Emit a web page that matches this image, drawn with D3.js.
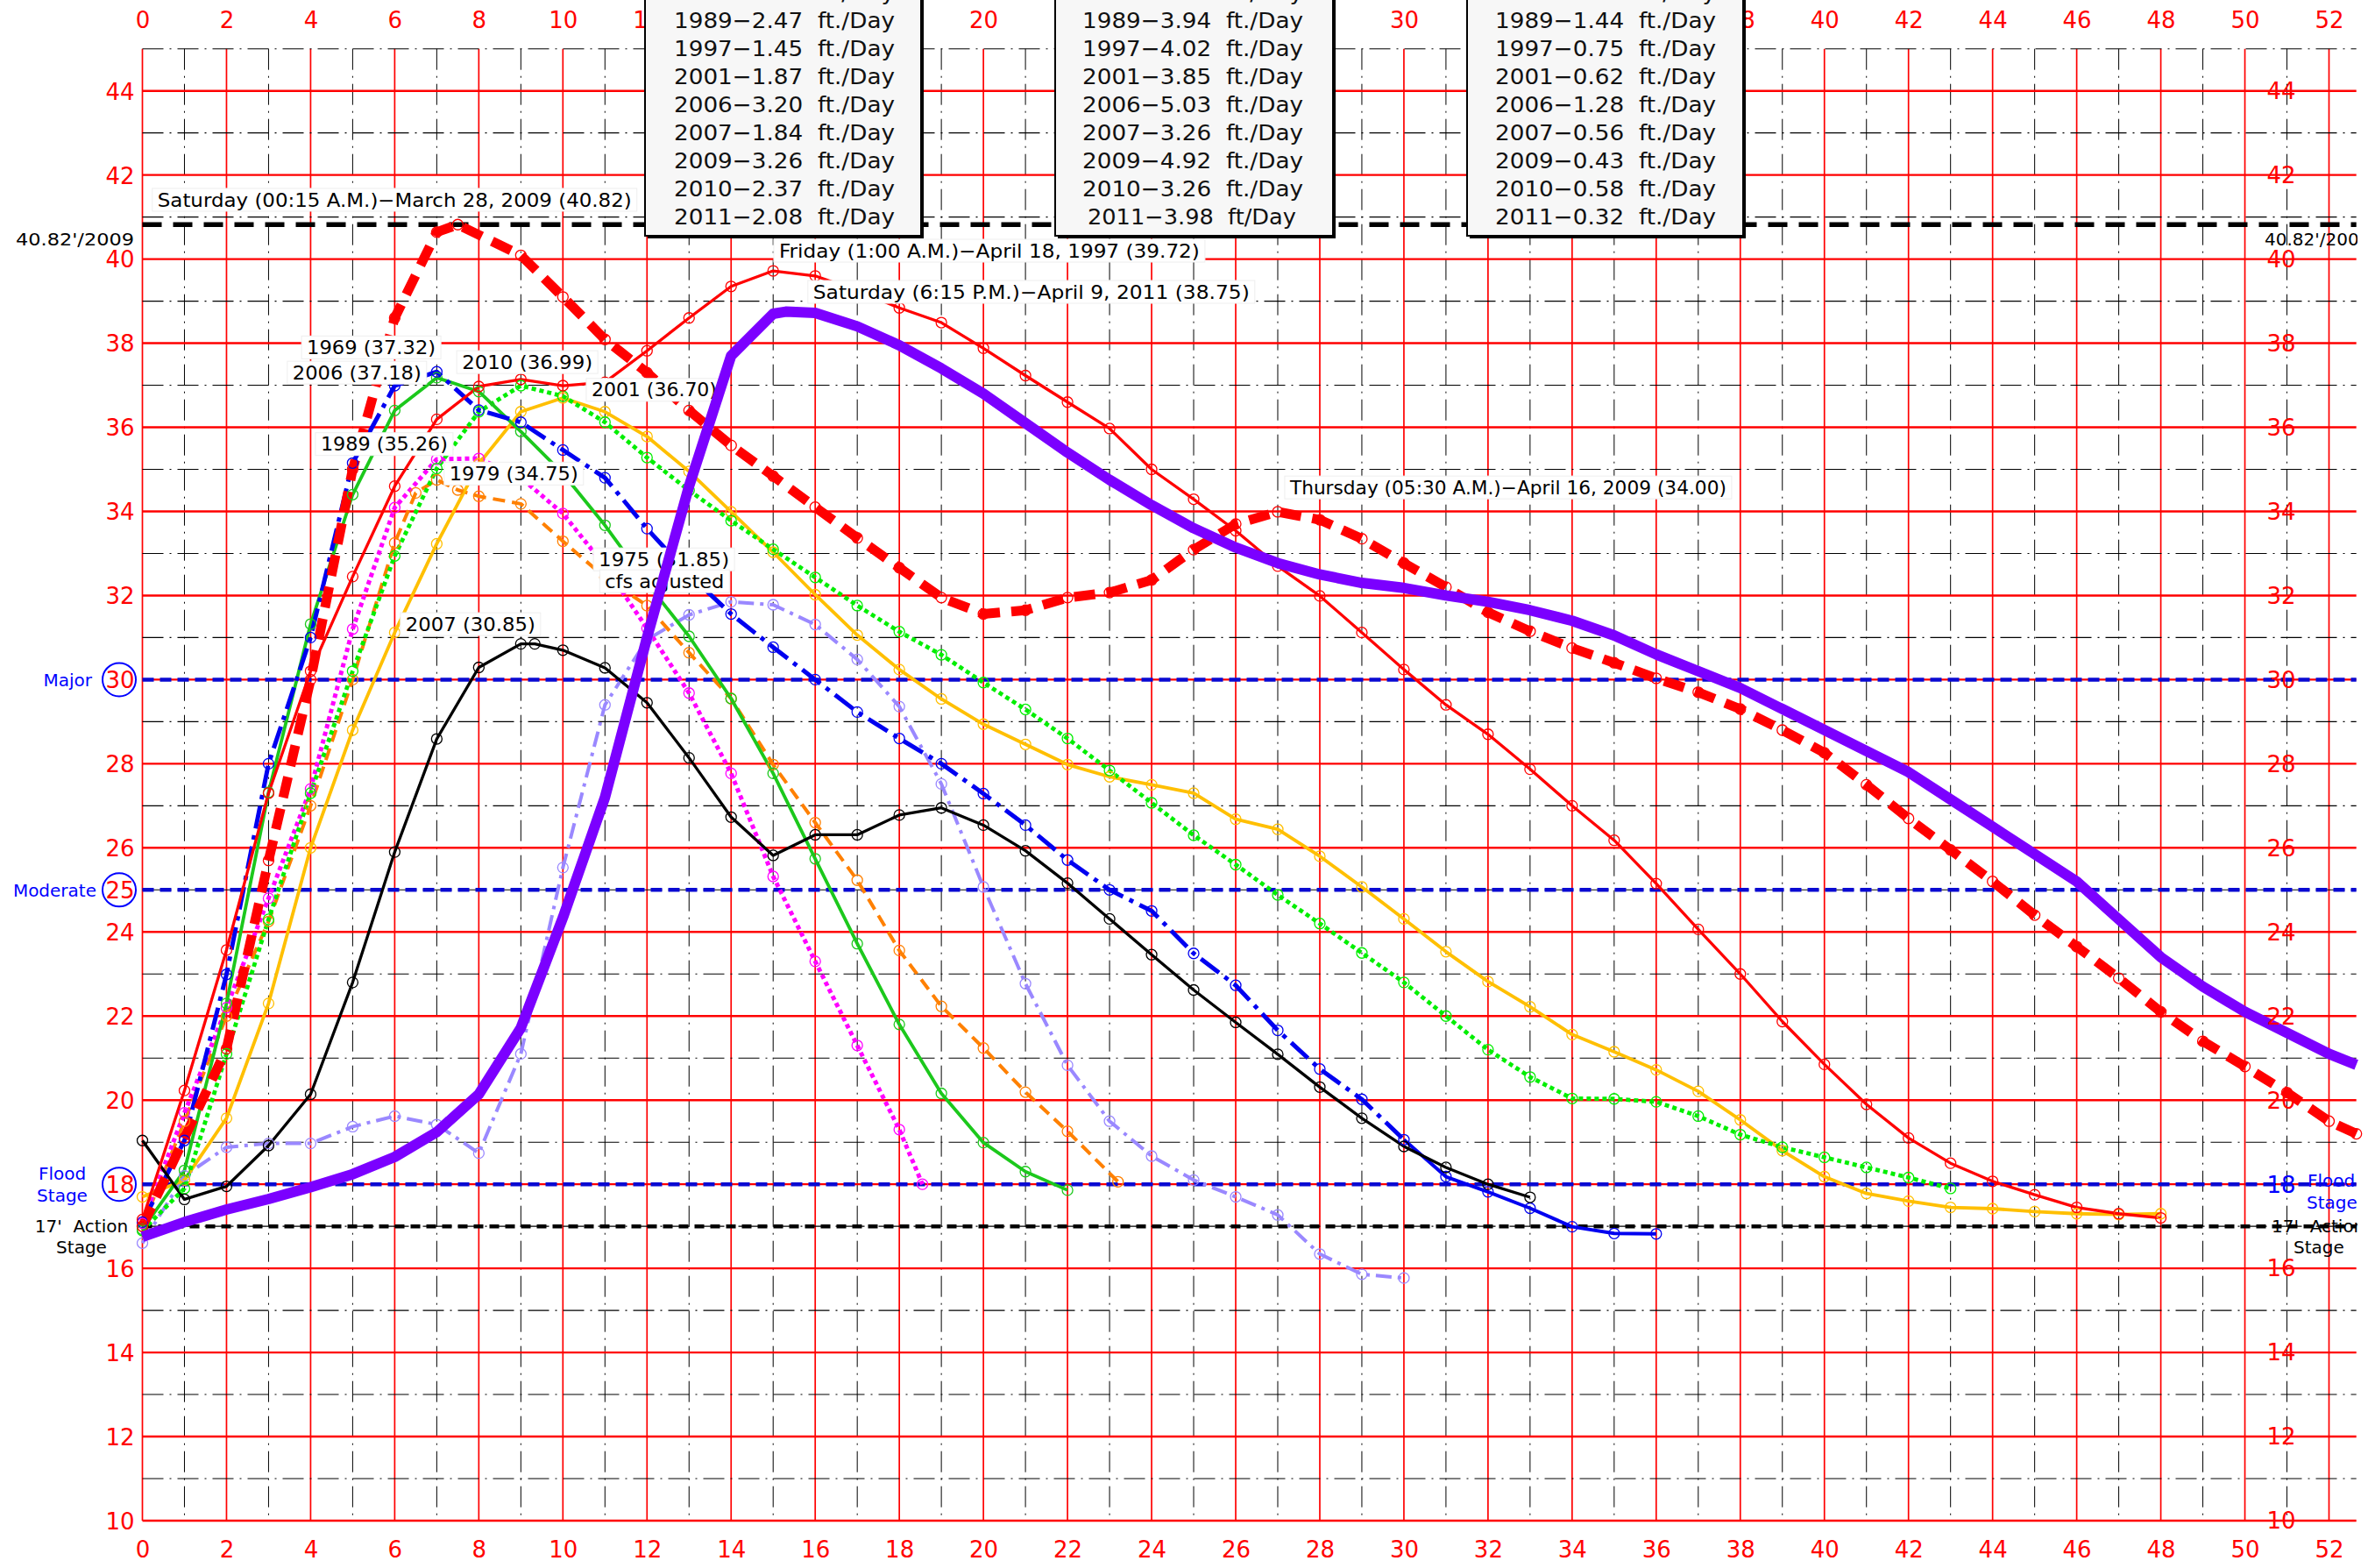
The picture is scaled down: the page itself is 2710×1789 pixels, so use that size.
<!DOCTYPE html>
<html><head><meta charset="utf-8">
<script src="https://cdn.jsdelivr.net/npm/d3@7"></script>
<style>
html,body{margin:0;padding:0;background:#fff;}
svg{display:block;}
text{font-family:"DejaVu Sans","Noto Sans",sans-serif;}
</style></head><body>
<svg id="c" width="2710" height="1789"></svg>
<script>
// ---------------- DATA ----------------
const xTicks = [0,2,4,6,8,10,12,14,16,18,20,22,24,26,28,30,32,34,36,38,40,42,44,46,48,50,52];
const yTicks = [10,12,14,16,18,20,22,24,26,28,30,32,34,36,38,40,42,44];

const days1969 = [0,1,2,3,4,5,6,7,8,9,10,11,12,13,14,15,16,17,18,19,20,21,22,23,24,25,26,27,28,29,30,31,32,33,34,35,36];
const stage1969 = [17.1,19.04,22.99,28.0,31.0,35.15,36.99,37.32,36.41,36.12,35.46,34.8,33.59,32.5,31.56,30.77,30.0,29.23,28.6,28.0,27.29,26.54,25.71,25.0,24.5,23.49,22.73,21.66,20.74,20.02,19.06,18.18,17.82,17.43,16.99,16.83,16.82];

const days1975 = [0,1,2,3,4,5,6,7,8,9,10,11,12,13,14,15,16,17,18,19,20,21,22,23,24,25,26,27,28,29,30];
const stage1975 = [16.6,18.2,18.88,18.97,18.97,19.37,19.62,19.42,18.74,21.1,25.53,29.4,30.95,31.54,31.85,31.78,31.31,30.48,29.36,27.52,25.07,22.77,20.83,19.5,18.67,18.1,17.7,17.27,16.34,15.86,15.77];

const days1979 = [0,1,2,3,4,5,6,6.5,7,7.5,8,9,10,11,12,13,14,15,16,17,18,19,20,21,22,23.2];
const stage1979 = [17.0,19.5,22.0,24.25,27.0,30.0,33.25,34.44,34.75,34.51,34.36,34.18,33.29,32.43,31.76,30.64,29.55,27.98,26.6,25.23,23.56,22.23,21.24,20.19,19.26,18.06];

const days1989 = [0,1,2,3,4,5,6,7,8,9,10,11,12,13,14,15,16,17,18,18.55];
const stage1989 = [17.07,19.7,22.2,24.8,27.4,31.2,34.09,35.24,35.26,34.8,33.95,32.7,31.22,29.68,27.77,25.32,23.3,21.3,19.3,18.0];

const days1997 = [0,1,2,3,4,5,6,7,8,9,10,11,12,13,14,15,16,17,18,19,20,21,22,23,24,25,26,27,28,29,30,31,32,33,34,35,36,37,38,39,40,41,42,43,44,45,46,47,48];
const stage1997 = [17.16,20.23,23.57,27.3,30.2,32.45,34.6,36.19,36.97,37.14,36.99,37.07,37.82,38.6,39.35,39.72,39.6,39.25,38.84,38.49,37.88,37.23,36.6,35.97,35.0,34.29,33.54,32.7,31.99,31.12,30.24,29.4,28.7,27.87,27.0,26.18,25.15,24.06,23.0,21.87,20.85,19.9,19.1,18.5,18.07,17.75,17.45,17.3,17.2];

const days2001 = [0,1,2,3,4,5,6,7,8,9,10,11,12,13,14,15,16,17,18,19,20,21,22,23,24,25,26,27,28,29,30,31,32,33,34,35,36,37,38,39,40,41,42,43,44,45,46,47,48];
const stage2001 = [17.7,18.1,19.57,22.3,26.0,28.8,31.12,33.23,35.13,36.37,36.70,36.37,35.78,34.95,33.99,33.03,32.02,31.06,30.24,29.54,28.94,28.46,27.98,27.69,27.5,27.3,26.68,26.44,25.8,25.07,24.31,23.53,22.82,22.22,21.56,21.15,20.72,20.21,19.53,18.8,18.18,17.78,17.6,17.45,17.42,17.35,17.3,17.28,17.3];

const days2006 = [0,1,2,3,4,5,6,7,8,9,10,11,12,13,14,15,16,17,18,19,20,21,22];
const stage2006 = [16.93,18.33,22.3,27.32,31.32,34.4,36.4,37.18,36.85,35.9,34.9,33.67,32.3,31.03,29.55,27.77,25.74,23.72,21.8,20.16,18.99,18.3,17.86];

const days2007 = [0,1,2,3,4,5,6,7,8,9,9.33,10,11,12,13,14,15,16,17,18,19,20,21,22,23,24,25,26,27,28,29,30,31,32,33];
const stage2007 = [19.04,17.64,17.95,18.92,20.14,22.8,25.9,28.59,30.29,30.85,30.85,30.7,30.28,29.45,28.14,26.73,25.82,26.31,26.31,26.78,26.95,26.54,25.93,25.16,24.31,23.46,22.62,21.85,21.09,20.31,19.57,18.9,18.4,18.0,17.69];

const days2009 = [0,1,2,3,4,5,6,7,7.5,9,10,11,12,13,14,15,16,17,18,19,20,21,22,23,24,25,26,27,28,29,30,31,32,33,34,35,36,37,38,39,40,41,42,43,44,45,46,47,48,49,50,51,52,52.65];
const stage2009 = [17.0,19.1,21.22,25.7,30.0,35.0,38.6,40.64,40.82,40.09,39.1,38.09,37.3,36.4,35.57,34.84,34.1,33.37,32.66,31.95,31.56,31.65,31.95,32.07,32.37,33.09,33.7,33.99,33.8,33.35,32.77,32.2,31.6,31.15,30.75,30.4,30.03,29.7,29.3,28.8,28.26,27.5,26.7,25.95,25.2,24.4,23.65,22.9,22.1,21.4,20.8,20.18,19.5,19.2];

const days2010 = [0,1,2,3,4,5,6,7,8,9,10,11,12,13,14,15,16,17,18,19,20,21,22,23,24,25,26,27,28,29,30,31,32,33,34,35,36,37,38,39,40,41,42,43];
const stage2010 = [16.9,17.9,21.1,24.3,27.3,30.2,32.94,35.02,36.37,36.99,36.74,36.12,35.28,34.5,33.78,33.1,32.43,31.76,31.14,30.59,29.93,29.29,28.6,27.84,27.07,26.3,25.6,24.88,24.2,23.5,22.8,22.0,21.2,20.55,20.04,20.03,19.96,19.62,19.18,18.88,18.64,18.4,18.16,17.9];

const days2011 = [0,1,2,3,4,5,6,7,8,9,10,11,12,13,14,15,15.3,16,17,18,19,20,21,22,23,24,25,26,27,28,29,30,31,32,33,34,35,36,37,38,39,40,41,42,43,44,45,46,47,48,49,50,51,52,52.65];
const stage2011 = [16.75,17.1,17.4,17.65,17.93,18.24,18.65,19.24,20.14,21.72,24.34,27.2,31.0,34.6,37.7,38.7,38.75,38.72,38.4,37.95,37.4,36.8,36.1,35.4,34.75,34.15,33.6,33.14,32.77,32.5,32.3,32.18,32.0,31.85,31.65,31.4,31.05,30.6,30.2,29.8,29.3,28.8,28.3,27.8,27.15,26.5,25.85,25.2,24.3,23.4,22.7,22.1,21.6,21.1,20.84];

// rate tables (ft./Day)
const rateYears = ["1979","1989","1997","2001","2006","2007","2009","2010","2011"];
const rateBox1 = ["2.53","2.47","1.45","1.87","3.20","1.84","3.26","2.37","2.08"];
const rateBox2 = ["3.42","3.94","4.02","3.85","5.03","3.26","4.92","3.26","3.98"];
const rateBox3 = ["1.63","1.44","0.75","0.62","1.28","0.56","0.43","0.58","0.32"];

const recordStage = 40.82;
const stageLines = [30,25,18];
const actionStage = 17;

// ---------------- CHART ----------------
const svg = d3.select("#c");
const x = d3.scaleLinear().domain([0,52.65]).range([162.5,2688.7]);
const y = d3.scaleLinear().domain([10,45]).range([1735,55.7]);
const X0 = x(0), X1 = x(52.65), Y0 = y(10), Y1 = y(45);

svg.append("rect").attr("width",2710).attr("height",1789).attr("fill","#fff");
svg.append("defs").append("clipPath").attr("id","clipR")
  .append("rect").attr("x",0).attr("y",0).attr("width",2690).attr("height",1789);

// grid
const grid = svg.append("g");
d3.range(0,53).forEach(d=>{
  const even = d%2===0;
  grid.append("line").attr("x1",x(d)).attr("x2",x(d)).attr("y1",Y1).attr("y2",Y0)
    .attr("stroke",even?"#ff0000":"#000").attr("stroke-width",even?1.7:1.0)
    .attr("stroke-dasharray",even?null:"24,7,2,7");
});
d3.range(10,46).forEach(v=>{
  const even = v%2===0;
  grid.append("line").attr("x1",X0).attr("x2",X1).attr("y1",y(v)).attr("y2",y(v))
    .attr("stroke",even?"#ff0000":"#000").attr("stroke-width",even?2.4:1.1)
    .attr("stroke-dasharray",even?null:"24,7,2,7");
});

// stage lines
svg.append("line").attr("x1",X0).attr("x2",X1).attr("y1",y(recordStage)).attr("y2",y(recordStage))
  .attr("stroke","#000").attr("stroke-width",5.5).attr("stroke-dasharray","22,13");
stageLines.forEach(v=>{
  svg.append("line").attr("x1",X0).attr("x2",X1).attr("y1",y(v)).attr("y2",y(v))
    .attr("stroke","#0a0ad2").attr("stroke-width",4.5).attr("stroke-dasharray","13,7");
});
svg.append("line").attr("x1",X0).attr("x2",X1).attr("y1",y(actionStage)).attr("y2",y(actionStage))
  .attr("stroke","#000").attr("stroke-width",4.5).attr("stroke-dasharray","11,7");

// series (solidFrom: index after which the line is drawn solid)
const series = [
  {d:days1975,v:stage1975,color:"#9a88ff",w:4,dash:"18,7,4,7",m:true},
  {d:days1979,v:stage1979,color:"#ff8000",w:4,dash:"14,8",m:true},
  {d:days1989,v:stage1989,color:"#ff00ff",w:5,dash:"5,4",m:true},
  {d:days2001,v:stage2001,color:"#ffbf00",w:3.8,dash:null,m:true},
  {d:days2010,v:stage2010,color:"#00ee00",w:4.8,dash:"5,4",m:true},
  {d:days2006,v:stage2006,color:"#1cc81c",w:3.8,dash:null,m:true},
  {d:days1969,v:stage1969,color:"#0000f0",w:5,dash:"26,8,5,8",m:true,solidFrom:30},
  {d:days2007,v:stage2007,color:"#000000",w:3.3,dash:null,m:true},
  {d:days1997,v:stage1997,color:"#ff0000",w:3.3,dash:null,m:true},
  {d:days2009,v:stage2009,color:"#ff0000",w:11,dash:"24,13",m:true},
];
const line = d3.line().x(p=>x(p[0])).y(p=>y(p[1]));
const sg = svg.append("g");
series.forEach(s=>{
  const pts = s.d.map((d,i)=>[d,s.v[i]]);
  if(s.solidFrom!==undefined){
    sg.append("path").attr("d",line(pts.slice(0,s.solidFrom+1))).attr("fill","none").attr("stroke",s.color)
      .attr("stroke-width",s.w).attr("stroke-dasharray",s.dash).attr("stroke-linejoin","round");
    sg.append("path").attr("d",line(pts.slice(s.solidFrom))).attr("fill","none").attr("stroke",s.color)
      .attr("stroke-width",s.w-1).attr("stroke-linejoin","round");
  } else {
    sg.append("path").attr("d",line(pts)).attr("fill","none").attr("stroke",s.color)
      .attr("stroke-width",s.w).attr("stroke-dasharray",s.dash).attr("stroke-linejoin","round");
  }
});
series.forEach(s=>{
  if(!s.m) return;
  s.d.forEach((d,i)=>{
    sg.append("circle").attr("cx",x(d)).attr("cy",y(s.v[i])).attr("r",6)
      .attr("fill","none").attr("stroke",s.color).attr("stroke-width",1.3);
  });
});

// annotations
const notes = [
  {t:"Saturday (00:15 A.M.)\u2212March 28, 2009 (40.82)", d:0.36, v:41.41, w:541},
  {t:"Friday (1:00 A.M.)\u2212April 18, 1997 (39.72)", d:15.14, v:40.2, w:480},
  {t:"Saturday (6:15 P.M.)\u2212April 9, 2011 (38.75)", d:15.95, v:39.22, w:498},
  {t:"Thursday (05:30 A.M.)\u2212April 16, 2009 (34.00)", d:27.29, v:34.57, w:498},
  {t:"1969 (37.32)", d:3.91, v:37.9, w:147},
  {t:"2006 (37.18)", d:3.57, v:37.3, w:147},
  {t:"2010 (36.99)", d:7.6, v:37.55, w:149},
  {t:"2001 (36.70)", d:10.68, v:36.89, w:143},
  {t:"1989 (35.26)", d:4.24, v:35.6, w:145},
  {t:"1979 (34.75)", d:7.3, v:34.9, w:147},
  {t:"1975 (31.85)", d:10.85, v:32.86, w:149},
  {t:"cfs adjusted", d:11.0, v:32.34, w:136},
  {t:"2007 (30.85)", d:6.26, v:31.32, w:148},
];
const ng = svg.append("g");
notes.forEach(n=>{
  ng.append("rect").attr("x",x(n.d)-6).attr("y",y(n.v)-13).attr("width",n.w+12).attr("height",26)
    .attr("fill","#fff").attr("stroke","#eee").attr("stroke-width",1);
});
notes.forEach(n=>{
  ng.append("text").attr("x",x(n.d)).attr("y",y(n.v)).attr("dy","0.36em")
    .attr("font-size",21).attr("textLength",n.w).attr("lengthAdjust","spacingAndGlyphs")
    .attr("fill","#000").text(n.t);
});

// 2011 thick purple on top
svg.append("path").attr("d",line(days2011.map((d,i)=>[d,stage2011[i]])))
  .attr("fill","none").attr("stroke","#7b00ff").attr("stroke-width",12).attr("stroke-linejoin","round");

// rate boxes geometry
const boxes = [
  {x0:736,x1:1051,tx:769,vals:rateBox1,unit:"ft./Day"},
  {x0:1204,x1:1521,tx:1235,vals:rateBox2,unit:"ft./Day"},
  {x0:1674,x1:1989,tx:1706,vals:rateBox3,unit:"ft./Day"},
];

// axis labels (top / bottom) - top labels hidden completely by the rate boxes are skipped
const hidden = d => boxes.some(b => x(d)-17 >= b.x0-2 && x(d)+17 <= b.x1+5);
const axTop = d3.axisTop(x).tickValues(xTicks.filter(d=>!hidden(d))).tickSize(0).tickPadding(0).tickFormat(d3.format("d"));
const gt = svg.append("g").attr("transform","translate(0,23)").call(axTop);
const axBot = d3.axisBottom(x).tickValues(xTicks).tickSize(0).tickPadding(0).tickFormat(d3.format("d"));
const gb = svg.append("g").attr("transform","translate(0,1768)").call(axBot);
[gt,gb].forEach(g=>{
  g.select(".domain").remove();
  g.selectAll("text").attr("y",0).attr("dy","0.36em").attr("font-size",26)
    .attr("font-family","DejaVu Sans").attr("fill","#ff0000");
});

// rate boxes
const rowY0 = -9, rowStep = 32;
boxes.forEach((b,bi)=>{
  const g = svg.append("g");
  g.append("rect").attr("x",b.x0+3).attr("y",-200).attr("width",b.x1-b.x0).attr("height",469+3).attr("fill","#000");
  g.append("rect").attr("x",b.x0).attr("y",-200).attr("width",b.x1-b.x0).attr("height",469)
    .attr("fill","#f7f7f7").attr("stroke","#000").attr("stroke-width",2);
  rateYears.forEach((yr,i)=>{
    const last = (bi===1 && yr==="2011");
    const unit = last ? "ft/Day" : b.unit;
    g.append("text").attr("x",b.tx + (last?6:0)).attr("y",rowY0+i*rowStep).attr("dy","0.36em")
      .attr("font-size",25).attr("fill","#111")
      .attr("textLength",last?238:252).attr("lengthAdjust","spacingAndGlyphs")
      .attr("xml:space","preserve")
      .text(yr+"\u2212"+b.vals[i]+"  "+unit);
  });
});

// left axis labels
const axL = d3.axisLeft(y).tickValues(yTicks).tickSize(0).tickPadding(9).tickFormat(d3.format("d"));
const gl = svg.append("g").attr("transform",`translate(${X0},0)`).call(axL);
gl.select(".domain").remove();
gl.selectAll("text").attr("font-size",26).attr("font-family","DejaVu Sans").attr("fill","#ff0000")
  .attr("dy","0.36em").style("display",d=>(d===30||d===18)?"none":null);
// circled stage labels on the left
stageLines.forEach(v=>{
  svg.append("circle").attr("cx",136).attr("cy",y(v)).attr("r",19).attr("fill","#fff")
    .attr("stroke","#0000ff").attr("stroke-width",2);
  svg.append("text").attr("x",137).attr("y",y(v)).attr("dy","0.36em").attr("text-anchor","middle")
    .attr("font-size",26).attr("fill","#ff0000").text(v);
});
// right axis labels
const gr = svg.append("g");
yTicks.forEach(v=>{
  gr.append("text").attr("x",2603).attr("y",y(v)).attr("dy","0.36em").attr("text-anchor","middle")
    .attr("font-size",26).attr("fill",(v===18)?"#0000ff":"#ff0000").text(v);
});

// side texts
const side = svg.append("g").attr("font-size",20);
side.append("text").attr("x",105).attr("y",y(30)).attr("dy","0.36em").attr("text-anchor","end").attr("fill","#0000ff").text("Major");
side.append("text").attr("x",110).attr("y",y(25)).attr("dy","0.36em").attr("text-anchor","end").attr("fill","#0000ff").text("Moderate");
side.append("text").attr("x",71).attr("y",1339).attr("dy","0.36em").attr("text-anchor","middle").attr("fill","#0000ff").text("Flood");
side.append("text").attr("x",71).attr("y",1364).attr("dy","0.36em").attr("text-anchor","middle").attr("fill","#0000ff").text("Stage");
side.append("text").attr("x",93).attr("y",1399).attr("dy","0.36em").attr("text-anchor","middle").attr("fill","#000").attr("xml:space","preserve").text("17'  Action");
side.append("text").attr("x",93).attr("y",1423).attr("dy","0.36em").attr("text-anchor","middle").attr("fill","#000").text("Stage");
side.append("text").attr("x",153).attr("y",273).attr("dy","0.36em").attr("text-anchor","end").attr("fill","#000")
  .attr("textLength",135).attr("lengthAdjust","spacingAndGlyphs").text("40.82'/2009");
const sideR = svg.append("g").attr("font-size",20).attr("clip-path","url(#clipR)");
sideR.append("text").attr("x",2584).attr("y",273).attr("dy","0.36em").attr("fill","#000").text("40.82'/2009");
sideR.append("text").attr("x",2633).attr("y",1347).attr("dy","0.36em").attr("fill","#0000ff").text("Flood");
sideR.append("text").attr("x",2632).attr("y",1372).attr("dy","0.36em").attr("fill","#0000ff").text("Stage");
sideR.append("text").attr("x",2592).attr("y",1399).attr("dy","0.36em").attr("fill","#000").attr("xml:space","preserve").text("17'  Action");
sideR.append("text").attr("x",2617).attr("y",1423).attr("dy","0.36em").attr("fill","#000").text("Stage");
</script>
</body></html>
